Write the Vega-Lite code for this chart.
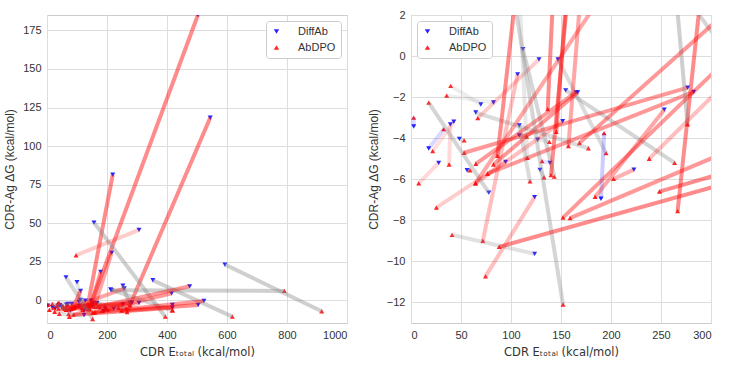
{
  "$schema": "https://vega.github.io/schema/vega-lite/v6.json",
  "background": "white",
  "padding": {"left": 3, "top": 8, "right": 5, "bottom": 5},
  "spacing": 18,
  "datasets": {
    "pairs": [
      {"dx": 2.7, "dy": -3.43, "ax": 2.7, "ay": -3.0, "type": "worse", "m": 0.3},
      {"dx": 17.7, "dy": -4.5, "ax": 32.7, "ay": -3.56, "type": "worse", "m": 0.3},
      {"dx": 27.7, "dy": -5.2, "ax": 7.7, "ay": -6.2, "type": "better", "m": 0.3},
      {"dx": 39.4, "dy": -3.33, "ax": 38.1, "ay": -5.28, "type": "better", "m": 0.3},
      {"dx": 42.8, "dy": -3.2, "ax": 21.7, "ay": -4.63, "type": "better", "m": 0.25},
      {"dx": 48.4, "dy": -4.03, "ax": 53.1, "ay": -4.11, "type": "mixed", "m": 0.4},
      {"dx": 56.1, "dy": -5.56, "ax": 59.0, "ay": -5.56, "type": "mixed", "m": 0.4},
      {"dx": 64.8, "dy": -2.75, "ax": 177.4, "ay": -4.49, "type": "mixed", "m": 0.6},
      {"dx": 69.8, "dy": -2.36, "ax": 39.7, "ay": -1.45, "type": "mixed", "m": 0.3},
      {"dx": 82.5, "dy": -2.26, "ax": 35.7, "ay": -1.93, "type": "mixed", "m": 0.25},
      {"dx": 94.6, "dy": -5.15, "ax": 25.4, "ay": -7.38, "type": "better", "m": 0.4},
      {"dx": 106.6, "dy": -0.89, "ax": 71.8, "ay": -9.0, "type": "better", "m": 0.5},
      {"dx": 108.3, "dy": -3.38, "ax": 119.0, "ay": -6.1, "type": "mixed", "m": 0.6},
      {"dx": 108.3, "dy": -3.86, "ax": 115.6, "ay": -3.92, "type": "mixed", "m": 0.4},
      {"dx": 111.9, "dy": 0.34, "ax": 143.3, "ay": -5.87, "type": "mixed", "m": 0.7},
      {"dx": 126.6, "dy": -4.07, "ax": 138.3, "ay": -4.18, "type": "mixed", "m": 0.4},
      {"dx": 128.0, "dy": -0.16, "ax": 66.8, "ay": -3.02, "type": "better", "m": 0.4},
      {"dx": 129.0, "dy": -5.54, "ax": 133.0, "ay": -5.9, "type": "mixed", "m": 0.4},
      {"dx": 139.0, "dy": -5.2, "ax": 131.0, "ay": -5.12, "type": "worse", "m": 0.2},
      {"dx": 147.0, "dy": -0.16, "ax": 195.1, "ay": -4.73, "type": "mixed", "m": 0.6},
      {"dx": 151.7, "dy": -3.17, "ax": 64.5, "ay": -6.2, "type": "better", "m": 0.5},
      {"dx": 154.7, "dy": -1.67, "ax": 263.6, "ay": -5.2, "type": "mixed", "m": 0.7},
      {"dx": 165.0, "dy": -1.77, "ax": 64.8, "ay": -5.25, "type": "better", "m": 0.8},
      {"dx": 166.7, "dy": -1.77, "ax": 82.5, "ay": -5.28, "type": "better", "m": 0.8},
      {"dx": 190.0, "dy": -6.95, "ax": 193.1, "ay": -3.75, "type": "worse", "m": 0.4},
      {"dx": 253.3, "dy": -2.61, "ax": 184.1, "ay": -6.86, "type": "better", "m": 0.7},
      {"dx": 276.6, "dy": -1.54, "ax": 53.1, "ay": -4.71, "type": "better", "m": 0.8},
      {"dx": 282.7, "dy": -1.74, "ax": 76.5, "ay": -5.73, "type": "better", "m": 0.8},
      {"dx": 222.9, "dy": -5.53, "ax": 202.5, "ay": -5.98, "type": "better", "m": 0.6},
      {"dx": 77.8, "dy": -6.65, "ax": 17.7, "ay": -2.27, "type": "mixed", "m": 0.7},
      {"dx": 123.6, "dy": -6.87, "ax": 74.5, "ay": -10.73, "type": "better", "m": 0.5},
      {"dx": 123.6, "dy": -9.63, "ax": 41.1, "ay": -8.71, "type": "mixed", "m": 0.5},
      {"dx": 503.0, "dy": 185.0, "ax": 140.0, "ay": -5.8, "type": "better", "m": 0.9},
      {"dx": 544.0, "dy": 118.4, "ax": 266.6, "ay": -7.55, "type": "better", "m": 0.9},
      {"dx": 219.0, "dy": 81.4, "ax": 136.7, "ay": -2.58, "type": "better", "m": 0.9},
      {"dx": 156.7, "dy": 50.4, "ax": 394.4, "ay": -10.6, "type": "mixed", "m": 0.8},
      {"dx": 306.7, "dy": 45.7, "ax": 96.7, "ay": 29.2, "type": "better", "m": 0.4},
      {"dx": 215.6, "dy": 30.8, "ax": 157.4, "ay": -4.39, "type": "better", "m": 0.7},
      {"dx": 593.0, "dy": 23.2, "ax": 915.6, "ay": -7.1, "type": "mixed", "m": 0.8},
      {"dx": 178.9, "dy": 18.4, "ax": 145.3, "ay": -3.69, "type": "better", "m": 0.8},
      {"dx": 63.3, "dy": 14.9, "ax": 152.0, "ay": -12.1, "type": "mixed", "m": 0.7},
      {"dx": 100.0, "dy": 11.7, "ax": 116.3, "ay": -4.96, "type": "mixed", "m": 0.4},
      {"dx": 112.0, "dy": 6.1, "ax": 86.5, "ay": -4.86, "type": "better", "m": 0.9},
      {"dx": 215.6, "dy": 6.5, "ax": 791.0, "ay": 6.1, "type": "mixed", "m": 0.8},
      {"dx": 253.0, "dy": 9.5, "ax": 276.6, "ay": -3.32, "type": "mixed", "m": 0.8},
      {"dx": 257.8, "dy": 7.8, "ax": 64.5, "ay": -6.2, "type": "better", "m": 0.7},
      {"dx": 212.0, "dy": 7.0, "ax": 417.8, "ay": -6.5, "type": "mixed", "m": 0.7},
      {"dx": 353.0, "dy": 13.0, "ax": 617.8, "ay": -10.6, "type": "mixed", "m": 0.8},
      {"dx": 475.6, "dy": 9.1, "ax": 168.4, "ay": -4.24, "type": "better", "m": 0.8},
      {"dx": 415.6, "dy": 4.5, "ax": 152.0, "ay": -7.87, "type": "better", "m": 0.8},
      {"dx": 523.0, "dy": -0.4, "ax": 159.0, "ay": -7.89, "type": "better", "m": 0.8},
      {"dx": 504.0, "dy": -3.0, "ax": 248.4, "ay": -6.6, "type": "better", "m": 0.9},
      {"dx": 417.8, "dy": -4.8, "ax": 88.2, "ay": -9.29, "type": "better", "m": 0.9},
      {"dx": 306.7, "dy": -1.7, "ax": 238.2, "ay": -5.0, "type": "better", "m": 0.5},
      {"dx": 417.8, "dy": -3.0, "ax": 417.8, "ay": -6.5, "type": "better", "m": 0.5}
    ]
  },
  "hconcat": [
    {
      "width": 300,
      "height": 308,
      "data": {"name": "pairs"},
      "layer": [
        {
          "mark": {"type": "point", "filled": true, "size": 25, "opacity": 0.85, "clip": true},
          "encoding": {
            "x": {"field": "dx", "type": "quantitative", "scale": {"domain": [0, 1000], "nice": false, "zero": false}, "axis": {"values": [0, 200, 400, 600, 800, 1000], "format": "d", "title": "CDR Eₜₒₜₐₗ (kcal/mol)"}},
            "y": {"field": "dy", "type": "quantitative", "scale": {"domain": [-14.7, 185], "nice": false, "zero": false}, "axis": {"values": [0, 25, 50, 75, 100, 125, 150, 175], "title": "CDR-Ag ΔG (kcal/mol)"}},
            "color": {"datum": "DiffAb", "type": "nominal", "scale": {"domain": ["DiffAb", "AbDPO"], "range": ["#0000ff", "#ff0000"]}, "legend": {"orient": "top-right", "title": null}},
            "shape": {"datum": "DiffAb", "type": "nominal", "scale": {"domain": ["DiffAb", "AbDPO"], "range": ["triangle-down", "triangle-up"]}, "legend": {"orient": "top-right", "title": null}}
          }
        },
        {
          "mark": {"type": "point", "filled": true, "size": 25, "opacity": 0.85, "clip": true},
          "encoding": {
            "x": {"field": "ax", "type": "quantitative"},
            "y": {"field": "ay", "type": "quantitative"},
            "color": {"datum": "AbDPO", "type": "nominal"},
            "shape": {"datum": "AbDPO", "type": "nominal"}
          }
        },
        {
          "mark": {"type": "rule", "strokeWidth": 4, "clip": true},
          "encoding": {
            "x": {"field": "dx", "type": "quantitative"},
            "y": {"field": "dy", "type": "quantitative"},
            "x2": {"field": "ax"},
            "y2": {"field": "ay"},
            "stroke": {"field": "type", "type": "nominal", "scale": {"domain": ["better", "mixed", "worse"], "range": ["#ff0000", "#888888", "#0000ff"]}, "legend": null},
            "strokeOpacity": {"field": "m", "type": "quantitative", "scale": {"domain": [0, 1], "range": [0, 0.5]}, "legend": null}
          }
        }
      ]
    },
    {
      "width": 300,
      "height": 308,
      "data": {"name": "pairs"},
      "layer": [
        {
          "mark": {"type": "point", "filled": true, "size": 25, "opacity": 0.85, "clip": true},
          "encoding": {
            "x": {"field": "dx", "type": "quantitative", "scale": {"domain": [0, 300], "nice": false, "zero": false}, "axis": {"values": [0, 50, 100, 150, 200, 250, 300], "title": "CDR Eₜₒₜₐₗ (kcal/mol)"}},
            "y": {"field": "dy", "type": "quantitative", "scale": {"domain": [-13, 2], "nice": false, "zero": false}, "axis": {"values": [-12, -10, -8, -6, -4, -2, 0, 2], "title": "CDR-Ag ΔG (kcal/mol)"}},
            "color": {"datum": "DiffAb", "type": "nominal", "scale": {"domain": ["DiffAb", "AbDPO"], "range": ["#0000ff", "#ff0000"]}, "legend": {"orient": "top-left", "title": null}},
            "shape": {"datum": "DiffAb", "type": "nominal", "scale": {"domain": ["DiffAb", "AbDPO"], "range": ["triangle-down", "triangle-up"]}, "legend": {"orient": "top-left", "title": null}}
          }
        },
        {
          "mark": {"type": "point", "filled": true, "size": 25, "opacity": 0.85, "clip": true},
          "encoding": {
            "x": {"field": "ax", "type": "quantitative"},
            "y": {"field": "ay", "type": "quantitative"},
            "color": {"datum": "AbDPO", "type": "nominal"},
            "shape": {"datum": "AbDPO", "type": "nominal"}
          }
        },
        {
          "mark": {"type": "rule", "strokeWidth": 4, "clip": true},
          "encoding": {
            "x": {"field": "dx", "type": "quantitative"},
            "y": {"field": "dy", "type": "quantitative"},
            "x2": {"field": "ax"},
            "y2": {"field": "ay"},
            "stroke": {"field": "type", "type": "nominal", "scale": {"domain": ["better", "mixed", "worse"], "range": ["#ff0000", "#888888", "#0000ff"]}, "legend": null},
            "strokeOpacity": {"field": "m", "type": "quantitative", "scale": {"domain": [0, 1], "range": [0, 0.5]}, "legend": null}
          }
        }
      ]
    }
  ],
  "resolve": {
    "scale": {"x": "independent", "y": "independent", "color": "independent", "shape": "independent", "stroke": "independent", "strokeOpacity": "independent"},
    "legend": {"color": "independent", "shape": "independent"}
  },
  "config": {
    "font": "Liberation Sans",
    "view": {"stroke": "#cccccc", "strokeWidth": 1},
    "axis": {"grid": true, "gridColor": "#dddddd", "gridWidth": 1, "domain": false, "ticks": false, "labelColor": "#333333", "labelFontSize": 11, "labelPadding": 6, "titleFontSize": 12, "titleColor": "#333333", "titleFontWeight": "normal", "titlePadding": 6},
    "axisX": {"titleFont": "DejaVu Sans", "titleFontSize": 11.5},
    "legend": {"fillColor": "white", "strokeColor": "#cccccc", "cornerRadius": 3, "padding": 5, "offset": 6, "labelFontSize": 11, "labelColor": "#333333", "labelOffset": 16, "rowPadding": 4, "symbolSize": 30, "symbolStrokeWidth": 0}
  }
}
